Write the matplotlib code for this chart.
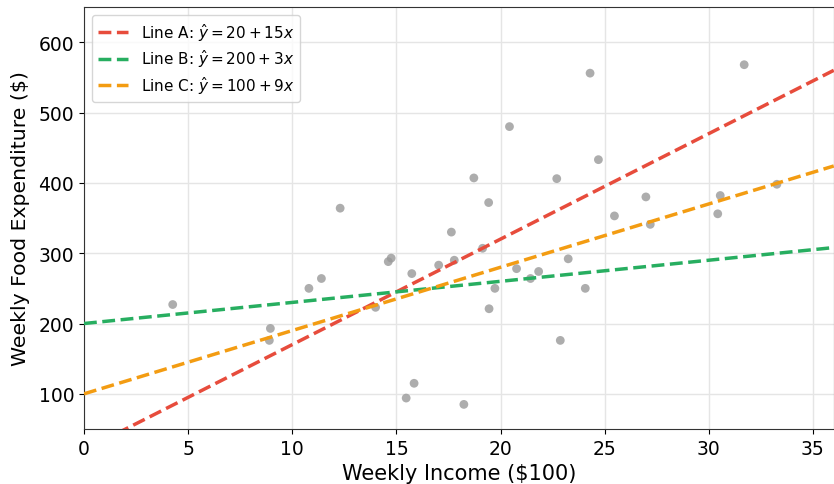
import matplotlib
matplotlib.use("Agg")
import matplotlib.pyplot as plt
import numpy as np

# weekly income ($100) and food expenditure ($)
income = [4.26, 8.95, 8.90, 10.8, 11.4, 12.3, 14.0, 14.61, 14.75, 15.74,
          15.47, 15.85, 17.03, 17.64, 17.78, 18.24, 18.72, 19.14, 19.43, 19.45,
          19.73, 20.43, 20.77, 21.44, 21.83, 22.7, 22.87, 23.25, 24.07, 24.3,
          24.7, 25.47, 26.98, 27.19, 30.43, 30.55, 31.7, 33.27]
food = [227, 193, 176, 250, 264, 364, 223, 288, 293, 271,
        94, 115, 283, 330, 290, 85, 407, 307, 372, 221,
        250, 480, 278, 264, 274, 406, 176, 292, 250, 556,
        433, 353, 380, 341, 356, 382, 568, 398]

# candidate lines: (label, intercept, slope, colour)
line_names = ["Line A", "Line B", "Line C"]
intercepts = [20, 200, 100]
slopes = [15, 3, 9]
line_colors = ["#e74c3c", "#27ae60", "#f39c12"]

fig = plt.figure(figsize=(8.34, 4.85), dpi=100)
ax = fig.add_axes([0.1007, 0.1134, 0.899, 0.870])

ax.scatter(income, food, s=40, color="#999999", alpha=0.8, edgecolors="none", zorder=3)

xs = np.linspace(0, 36, 200)
for name, a, b, c in zip(line_names, intercepts, slopes, line_colors):
    ax.plot(xs, a + b * xs, linestyle="--", linewidth=2.5, color=c,
            label=rf"{name}: $\hat{{y}} = {a} + {b}x$", zorder=4)

ax.set_xlim(0, 36)
ax.set_ylim(50, 650)
ax.set_xlabel("Weekly Income ($100)", fontsize=15)
ax.set_ylabel("Weekly Food Expenditure ($)", fontsize=14.7, labelpad=6)
ax.tick_params(labelsize=13.5)
ax.grid(True, color="#e5e5e5", linewidth=1)
ax.set_axisbelow(True)
for s in ax.spines.values():
    s.set_color("#333333")
ax.legend(loc="upper left", fontsize=11, labelspacing=0.3)

fig.savefig("out.png", dpi=100)
